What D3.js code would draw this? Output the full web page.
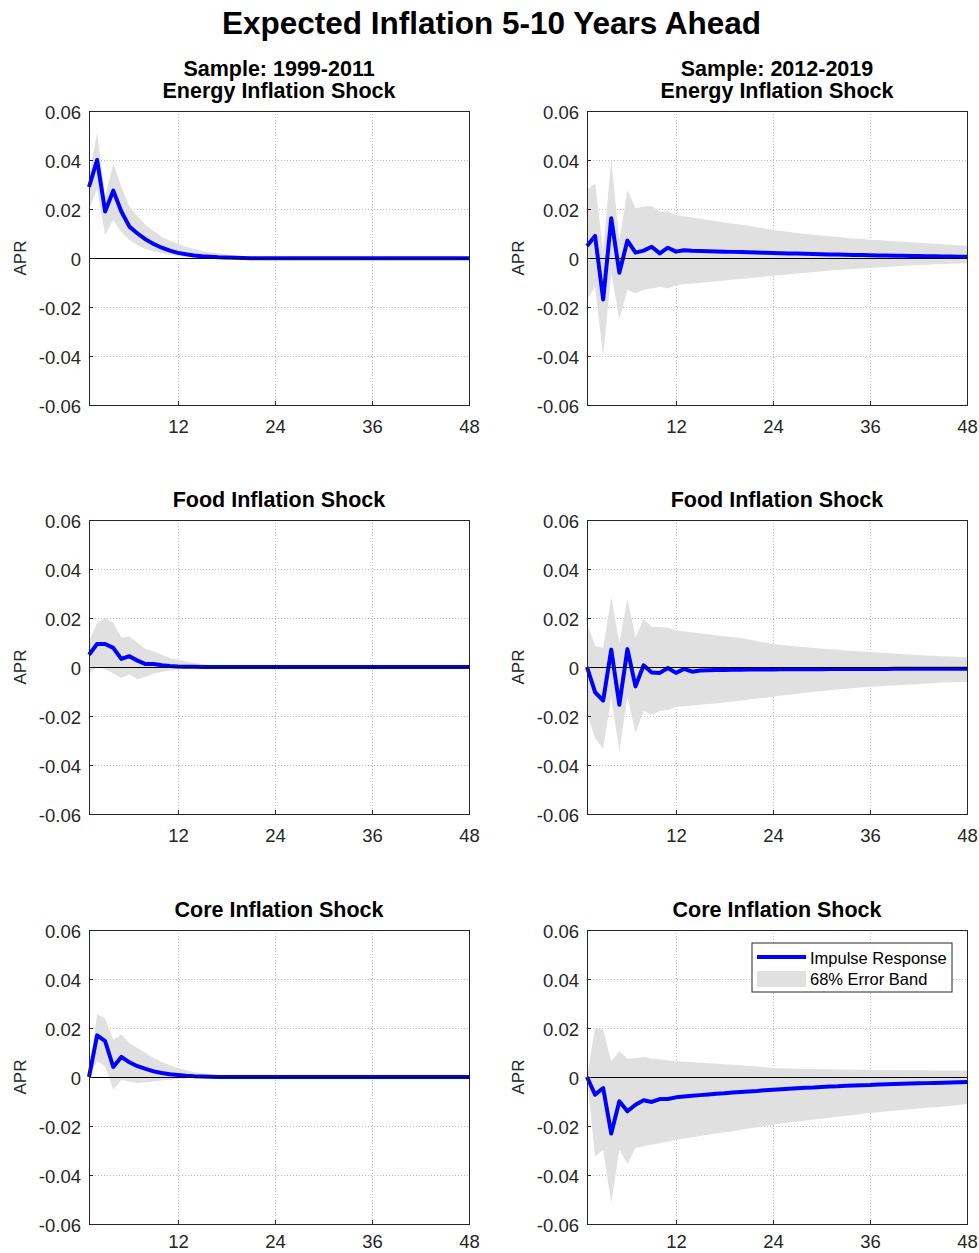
<!DOCTYPE html>
<html>
<head>
<meta charset="utf-8">
<script src="https://cdn.jsdelivr.net/npm/d3@7"></script>
<style>
  body { margin: 0; background: #fff; }
  svg text { font-family: "Liberation Sans", Arial, sans-serif; }
</style>
</head>
<body>
<div id="chart"></div>
<script>
// ---- data ----
const months = d3.range(1, 49);
const xTicks = [12, 24, 36, 48];
const yTicks = [-0.06, -0.04, -0.02, 0, 0.02, 0.04, 0.06];

const panelTitles = [
  ['Sample: 1999-2011', 'Energy Inflation Shock'],
  ['Sample: 2012-2019', 'Energy Inflation Shock'],
  ['Food Inflation Shock'],
  ['Food Inflation Shock'],
  ['Core Inflation Shock'],
  ['Core Inflation Shock']
];

// energy, 1999-2011
const energyEarly = [0.029, 0.040, 0.019, 0.0275, 0.019, 0.0128, 0.0100, 0.0076, 0.0057, 0.0042,
  0.0030, 0.0021, 0.0015, 0.0010, 0.0007, 0.0005, 0.0003, 0.0002, 0.0001, 0.0000,
  -0.0001, -0.0001, -0.0001, -0.0001, -0.0001, -0.0001, -0.0001, -0.0001, -0.0001, -0.0001,
  -0.0001, -0.0001, -0.0001, -0.0001, -0.0001, -0.0001, -0.0001, -0.0001, -0.0001, -0.0001,
  -0.0001, -0.0001, -0.0001, -0.0001, -0.0001, -0.0001, -0.0001, -0.0001];
const energyEarlyHi = [0.033, 0.051, 0.025, 0.0386, 0.029, 0.021, 0.017, 0.0135, 0.011, 0.0087,
  0.0070, 0.0057, 0.0046, 0.0037, 0.0029, 0.0023, 0.0018, 0.0014, 0.0011, 0.0008,
  0.0006, 0.0005, 0.0004, 0.0003, 0.0002, 0.0002, 0.0001, 0.0001, 0.0001, 0.0001,
  0.0001, 0.0000, 0.0000, 0.0000, 0.0000, 0.0000, 0.0000, 0.0000, 0.0000, 0.0000,
  0.0000, 0.0000, 0.0000, 0.0000, 0.0000, 0.0000, 0.0000, 0.0000];
const energyEarlyLo = [0.020, 0.028, 0.0094, 0.0155, 0.0107, 0.0073, 0.0053, 0.0037, 0.0026, 0.0019,
  0.0013, 0.0009, 0.0006, 0.0003, 0.0001, 0.0000, -0.0001, -0.0002, -0.0002, -0.0003,
  -0.0003, -0.0003, -0.0003, -0.0003, -0.0003, -0.0003, -0.0003, -0.0003, -0.0002, -0.0002,
  -0.0002, -0.0002, -0.0002, -0.0002, -0.0002, -0.0002, -0.0002, -0.0002, -0.0002, -0.0002,
  -0.0002, -0.0002, -0.0002, -0.0002, -0.0002, -0.0002, -0.0002, -0.0002];

// energy, 2012-2019
const energyLate = [0.0049, 0.009, -0.0169, 0.0162, -0.006, 0.0071, 0.0022, 0.003, 0.0046, 0.0019,
  0.0042, 0.0026, 0.0032, 0.0030, 0.0029, 0.0028, 0.0027, 0.0026, 0.0025, 0.0024,
  0.0023, 0.0022, 0.0021, 0.0020, 0.0019, 0.0018, 0.0018, 0.0017, 0.0016, 0.0015,
  0.0014, 0.0014, 0.0013, 0.0012, 0.0012, 0.0011, 0.0010, 0.0010, 0.0009, 0.0009,
  0.0008, 0.0008, 0.0007, 0.0007, 0.0006, 0.0006, 0.0005, 0.0005];
const energyLateHi = [0.0278, 0.0305, 0.003, 0.040, 0.007, 0.0278, 0.0203, 0.021, 0.0212, 0.019,
  0.019, 0.0176, 0.0170, 0.0165, 0.0160, 0.0155, 0.0150, 0.0145, 0.0140, 0.0136,
  0.0132, 0.0126, 0.0120, 0.0114, 0.0110, 0.0106, 0.0102, 0.0098, 0.0095, 0.0092,
  0.0089, 0.0086, 0.0083, 0.0080, 0.0078, 0.0075, 0.0073, 0.0070, 0.0068, 0.0066,
  0.0064, 0.0062, 0.0060, 0.0058, 0.0056, 0.0054, 0.0052, 0.0050];
const energyLateLo = [-0.017, -0.0117, -0.040, -0.006, -0.025, -0.013, -0.0144, -0.013, -0.0124, -0.0117,
  -0.0124, -0.011, -0.0107, -0.0104, -0.0101, -0.0098, -0.0095, -0.0092, -0.0089, -0.0086,
  -0.0083, -0.0080, -0.0076, -0.0072, -0.0069, -0.0066, -0.0063, -0.0060, -0.0057, -0.0054,
  -0.0051, -0.0049, -0.0047, -0.0045, -0.0043, -0.0041, -0.0039, -0.0037, -0.0035, -0.0033,
  -0.0031, -0.0029, -0.0028, -0.0026, -0.0025, -0.0023, -0.0022, -0.0021];

// food, 1999-2011
const foodEarly = [0.005, 0.0094, 0.0094, 0.0078, 0.0033, 0.0044, 0.0026, 0.0012, 0.0012, 0.0007,
  0.0004, 0.0002, 0.0001, 0.0001, 0.0000, 0.0000, 0.0000, 0.0000, 0.0000, 0.0000,
  0.0000, 0.0000, 0.0000, 0.0000, 0.0000, 0.0000, 0.0000, 0.0000, 0.0000, 0.0000,
  0.0000, 0.0000, 0.0000, 0.0000, 0.0000, 0.0000, 0.0000, 0.0000, 0.0000, 0.0000,
  0.0000, 0.0000, 0.0000, 0.0000, 0.0000, 0.0000, 0.0000, 0.0000];
const foodEarlyHi = [0.0105, 0.018, 0.020, 0.018, 0.012, 0.0125, 0.0098, 0.0073, 0.0064, 0.005,
  0.0037, 0.0030, 0.0022, 0.0016, 0.0012, 0.0008, 0.0005, 0.0003, 0.0002, 0.0001,
  0.0001, 0.0000, 0.0000, 0.0000, 0.0000, 0.0000, 0.0000, 0.0000, 0.0000, 0.0000,
  0.0000, 0.0000, 0.0000, 0.0000, 0.0000, 0.0000, 0.0000, 0.0000, 0.0000, 0.0000,
  0.0000, 0.0000, 0.0000, 0.0000, 0.0000, 0.0000, 0.0000, 0.0000];
const foodEarlyLo = [-0.003, 0.0003, -0.001, -0.0025, -0.0045, -0.003, -0.005, -0.004, -0.0027, -0.002,
  -0.0014, -0.0010, -0.0007, -0.0005, -0.0003, -0.0002, -0.0001, -0.0001, 0.0000, 0.0000,
  0.0000, 0.0000, 0.0000, 0.0000, 0.0000, 0.0000, 0.0000, 0.0000, 0.0000, 0.0000,
  0.0000, 0.0000, 0.0000, 0.0000, 0.0000, 0.0000, 0.0000, 0.0000, 0.0000, 0.0000,
  0.0000, 0.0000, 0.0000, 0.0000, 0.0000, 0.0000, 0.0000, 0.0000];

// food, 2012-2019
const foodLate = [0.0, -0.0103, -0.0137, 0.0071, -0.0154, 0.0073, -0.0079, 0.0007, -0.0022, -0.0024,
  -0.0004, -0.0024, -0.0008, -0.0019, -0.0014, -0.0013, -0.0012, -0.0012, -0.0011, -0.0011,
  -0.0010, -0.0010, -0.0010, -0.0010, -0.0009, -0.0009, -0.0009, -0.0009, -0.0009, -0.0009,
  -0.0008, -0.0008, -0.0008, -0.0008, -0.0008, -0.0008, -0.0008, -0.0008, -0.0007, -0.0007,
  -0.0007, -0.0007, -0.0007, -0.0007, -0.0007, -0.0007, -0.0007, -0.0007];
const foodLateHi = [0.018, 0.0087, 0.0078, 0.0286, 0.0098, 0.028, 0.012, 0.0197, 0.0163, 0.0163,
  0.016, 0.015, 0.0146, 0.0142, 0.0138, 0.0134, 0.0130, 0.0126, 0.0122, 0.0118,
  0.0112, 0.0106, 0.0100, 0.0094, 0.0090, 0.0087, 0.0084, 0.0081, 0.0078, 0.0075,
  0.0072, 0.0070, 0.0067, 0.0065, 0.0063, 0.0061, 0.0059, 0.0057, 0.0055, 0.0053,
  0.0051, 0.0049, 0.0047, 0.0046, 0.0044, 0.0043, 0.0041, 0.0040];
const foodLateLo = [-0.0188, -0.029, -0.0335, -0.012, -0.0344, -0.012, -0.027, -0.018, -0.0195, -0.018,
  -0.0175, -0.0163, -0.0160, -0.0157, -0.0154, -0.0151, -0.0148, -0.0145, -0.0141, -0.0137,
  -0.0133, -0.0129, -0.0125, -0.0121, -0.0117, -0.0113, -0.0109, -0.0105, -0.0101, -0.0098,
  -0.0095, -0.0092, -0.0089, -0.0086, -0.0083, -0.0081, -0.0079, -0.0077, -0.0075, -0.0073,
  -0.0071, -0.0069, -0.0067, -0.0065, -0.0063, -0.0062, -0.0061, -0.0060];

// core, 1999-2011
const coreEarly = [0.0, 0.017, 0.0146, 0.0041, 0.0082, 0.006, 0.0044, 0.0033, 0.0023, 0.0016,
  0.0011, 0.0008, 0.0005, 0.0003, 0.0002, 0.0001, 0.0000, 0.0000, 0.0000, 0.0000,
  0.0000, 0.0000, 0.0000, 0.0000, 0.0000, 0.0000, 0.0000, 0.0000, 0.0000, 0.0000,
  0.0000, 0.0000, 0.0000, 0.0000, 0.0000, 0.0000, 0.0000, 0.0000, 0.0000, 0.0000,
  0.0000, 0.0000, 0.0000, 0.0000, 0.0000, 0.0000, 0.0000, 0.0000];
const coreEarlyHi = [0.0, 0.0257, 0.0238, 0.0152, 0.0173, 0.0139, 0.0118, 0.0098, 0.0078, 0.0061,
  0.0048, 0.0037, 0.0028, 0.0020, 0.0015, 0.0011, 0.0008, 0.0005, 0.0003, 0.0002,
  0.0001, 0.0001, 0.0000, 0.0000, 0.0000, 0.0000, 0.0000, 0.0000, 0.0000, 0.0000,
  0.0000, 0.0000, 0.0000, 0.0000, 0.0000, 0.0000, 0.0000, 0.0000, 0.0000, 0.0000,
  0.0000, 0.0000, 0.0000, 0.0000, 0.0000, 0.0000, 0.0000, 0.0000];
const coreEarlyLo = [0.0, 0.0064, 0.0044, -0.0052, -0.0011, -0.0018, -0.0024, -0.0021, -0.0018, -0.0014,
  -0.0011, -0.0008, -0.0005, -0.0003, -0.0002, -0.0001, 0.0000, 0.0000, 0.0000, 0.0000,
  0.0000, 0.0000, 0.0000, 0.0000, 0.0000, 0.0000, 0.0000, 0.0000, 0.0000, 0.0000,
  0.0000, 0.0000, 0.0000, 0.0000, 0.0000, 0.0000, 0.0000, 0.0000, 0.0000, 0.0000,
  0.0000, 0.0000, 0.0000, 0.0000, 0.0000, 0.0000, 0.0000, 0.0000];

// core, 2012-2019
const coreLate = [0.0, -0.0072, -0.0045, -0.0231, -0.0099, -0.014, -0.0113, -0.0095, -0.0102, -0.009,
  -0.009, -0.0083, -0.0080, -0.0077, -0.0074, -0.0071, -0.0068, -0.0066, -0.0063, -0.0061,
  -0.0059, -0.0057, -0.0054, -0.0052, -0.0050, -0.0048, -0.0046, -0.0044, -0.0043, -0.0041,
  -0.0039, -0.0038, -0.0036, -0.0035, -0.0034, -0.0033, -0.0031, -0.0030, -0.0029, -0.0028,
  -0.0027, -0.0026, -0.0025, -0.0024, -0.0023, -0.0022, -0.0021, -0.0020];
const coreLateHi = [0.0, 0.020, 0.0193, 0.0064, 0.0105, 0.0075, 0.0078, 0.0082, 0.0075, 0.0072,
  0.0068, 0.0064, 0.0062, 0.0060, 0.0058, 0.0056, 0.0054, 0.0052, 0.0050, 0.0048,
  0.0046, 0.0043, 0.0040, 0.0037, 0.0036, 0.0035, 0.0034, 0.0033, 0.0033, 0.0032,
  0.0032, 0.0031, 0.0031, 0.0030, 0.0030, 0.0030, 0.0029, 0.0029, 0.0029, 0.0028,
  0.0028, 0.0028, 0.0028, 0.0027, 0.0027, 0.0027, 0.0027, 0.0027];
const coreLateLo = [0.0, -0.0324, -0.0297, -0.0514, -0.0297, -0.0355, -0.029, -0.0283, -0.0276, -0.027,
  -0.0263, -0.0256, -0.0251, -0.0246, -0.0241, -0.0236, -0.0231, -0.0226, -0.0221, -0.0215,
  -0.0210, -0.0205, -0.0200, -0.0195, -0.0190, -0.0186, -0.0182, -0.0178, -0.0174, -0.0170,
  -0.0166, -0.0162, -0.0158, -0.0155, -0.0151, -0.0147, -0.0144, -0.0141, -0.0138, -0.0135,
  -0.0132, -0.0129, -0.0126, -0.0123, -0.0120, -0.0117, -0.0114, -0.0110];

const responses = [energyEarly, energyLate, foodEarly, foodLate, coreEarly, coreLate];
const bandsHi = [energyEarlyHi, energyLateHi, foodEarlyHi, foodLateHi, coreEarlyHi, coreLateHi];
const bandsLo = [energyEarlyLo, energyLateLo, foodEarlyLo, foodLateLo, coreEarlyLo, coreLateLo];

// ---- layout ----
const W = 979, H = 1253;
const colX = [[89, 469], [587, 967]];
const rowY = [[111, 405], [520, 814], [930, 1224]];
const rowPad = [15, 15, 11];
const BLUE = '#0000ff', BAND = '#e0e0e0', INK = '#262626';

const svg = d3.select('#chart').append('svg')
  .attr('width', W).attr('height', H)
  .attr('viewBox', `0 0 ${W} ${H}`);

svg.append('text')
  .attr('x', W / 2 + 2).attr('y', 34)
  .attr('text-anchor', 'middle')
  .attr('font-size', 31.5).attr('font-weight', 'bold')
  .attr('fill', '#000')
  .text('Expected Inflation 5-10 Years Ahead');

const fmtY = v => v === 0 ? '0' : d3.format('.2f')(v).replace('−', '-');

responses.forEach((resp, i) => {
  const col = i % 2, row = Math.floor(i / 2);
  const [x0, x1] = colX[col];
  const [y0, y1] = rowY[row];

  const x = d3.scaleLinear().domain([1, 48]).range([x0, x1]);
  const y = d3.scaleLinear().domain([-0.06, 0.06]).range([y1, y0]);

  const g = svg.append('g');

  // grid
  g.selectAll('.gx').data(xTicks.filter(t => t < 48)).join('line')
    .attr('x1', d => x(d) + 0.5).attr('x2', d => x(d) + 0.5)
    .attr('y1', y0).attr('y2', y1)
    .attr('stroke', '#bdbdbd').attr('stroke-width', 1)
    .attr('stroke-dasharray', '1,2');
  g.selectAll('.gy').data(yTicks.filter(t => t > -0.06 && t < 0.06)).join('line')
    .attr('x1', x0).attr('x2', x1)
    .attr('y1', d => Math.round(y(d)) + 0.5).attr('y2', d => Math.round(y(d)) + 0.5)
    .attr('stroke', '#bdbdbd').attr('stroke-width', 1)
    .attr('stroke-dasharray', '1,2');

  // error band
  const area = d3.area()
    .x((d, j) => x(months[j]))
    .y0((d, j) => y(bandsLo[i][j]))
    .y1(d => y(d));
  g.append('path')
    .datum(bandsHi[i])
    .attr('d', area)
    .attr('fill', BAND);

  // impulse response
  const line = d3.line()
    .x((d, j) => x(months[j]))
    .y(d => y(d));
  g.append('path')
    .datum(resp)
    .attr('d', line)
    .attr('fill', 'none')
    .attr('stroke', BLUE)
    .attr('stroke-width', 4)
    .attr('stroke-linejoin', 'round');

  // zero line
  g.append('line')
    .attr('x1', x0).attr('x2', x1)
    .attr('y1', Math.round(y(0)) + 0.5).attr('y2', Math.round(y(0)) + 0.5)
    .attr('stroke', '#000').attr('stroke-width', 1);

  // axes
  const xAxis = d3.axisBottom(x).tickValues(xTicks).tickSize(-4).tickPadding(rowPad[row])
    .tickFormat(d3.format('d'));
  const gxA = g.append('g').attr('transform', `translate(0,${y1})`).call(xAxis);
  const yAxis = d3.axisLeft(y).tickValues(yTicks).tickSize(-4).tickPadding(8)
    .tickFormat(fmtY);
  const gyA = g.append('g').attr('transform', `translate(${x0},0)`).call(yAxis);
  [gxA, gyA].forEach(a => {
    a.select('.domain').remove();
    a.selectAll('line').attr('stroke', INK);
    a.selectAll('text')
      .attr('fill', INK)
      .attr('font-size', 18.5)
      .attr('font-family', '"Liberation Sans", Arial, sans-serif');
  });
  gyA.selectAll('text').attr('dy', '0.42em');

  // frame
  g.append('rect')
    .attr('x', x0 + 0.5).attr('y', y0 + 0.5)
    .attr('width', x1 - x0).attr('height', y1 - y0)
    .attr('fill', 'none').attr('stroke', INK).attr('stroke-width', 1);

  // y label
  g.append('text')
    .attr('transform', `translate(${x0 - 63},${y(0)}) rotate(-90)`)
    .attr('text-anchor', 'middle')
    .attr('font-size', 17).attr('fill', INK)
    .text('APR');

  // titles
  const titles = panelTitles[i];
  titles.forEach((t, k) => {
    g.append('text')
      .attr('x', (x0 + x1) / 2)
      .attr('y', y0 - 13 - (titles.length - 1 - k) * 22)
      .attr('text-anchor', 'middle')
      .attr('font-size', 21.5).attr('font-weight', 'bold')
      .attr('fill', '#000')
      .text(t);
  });

  // legend in last panel
  if (i === 5) {
    const lg = g.append('g').attr('transform', 'translate(752,943)');
    lg.append('rect').attr('width', 200).attr('height', 49)
      .attr('fill', '#fff').attr('stroke', INK).attr('stroke-width', 1);
    lg.append('line').attr('x1', 5).attr('x2', 54).attr('y1', 14).attr('y2', 14)
      .attr('stroke', BLUE).attr('stroke-width', 4);
    lg.append('rect').attr('x', 5).attr('y', 28).attr('width', 49).attr('height', 16)
      .attr('fill', BAND);
    lg.append('text').attr('x', 58).attr('y', 20.5).attr('font-size', 16.5).attr('fill', '#000')
      .text('Impulse Response');
    lg.append('text').attr('x', 58).attr('y', 42).attr('font-size', 16.5).attr('fill', '#000')
      .text('68% Error Band');
  }
});
</script>
</body>
</html>
